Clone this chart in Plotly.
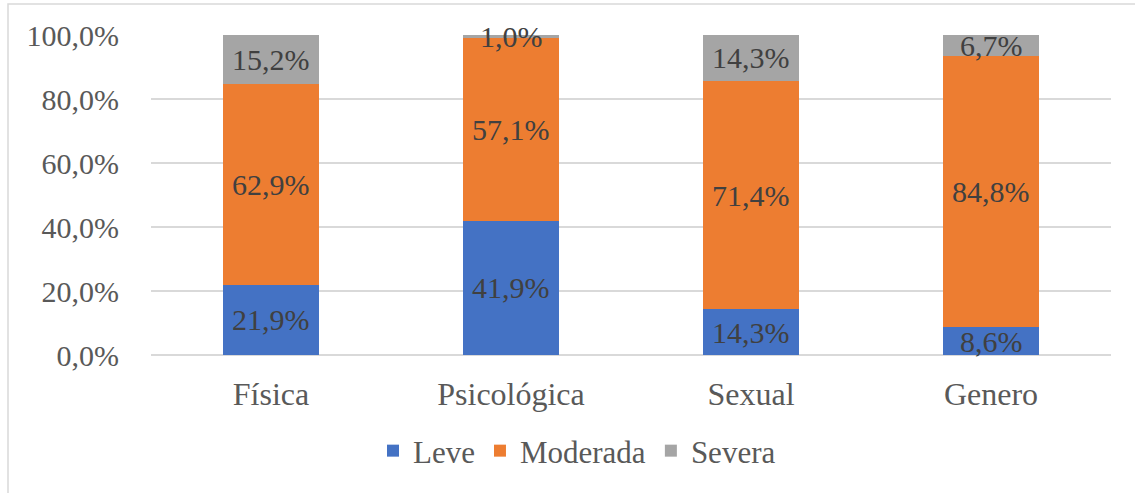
import plotly.graph_objects as go

categories = ["Física", "Psicológica", "Sexual", "Genero"]
leve = [21.9, 41.9, 14.3, 8.6]
moderada = [62.9, 57.1, 71.4, 84.8]
severa = [15.2, 1.0, 14.3, 6.7]

series = [
    ("Leve", leve, "#4472C4"),
    ("Moderada", moderada, "#ED7D31"),
    ("Severa", severa, "#A5A5A5"),
]

FONT = "Liberation Serif"
AXIS_TEXT = "#595959"
LABEL_TEXT = "#404040"

fig = go.Figure()
base = [0.0] * len(categories)
labels = []
for name, vals, color in series:
    fig.add_trace(go.Bar(
        x=categories,
        y=vals,
        name=name,
        marker=dict(color=color, line=dict(width=0)),
    ))
    # value labels centred on each stacked segment
    for i, (cat, v) in enumerate(zip(categories, vals)):
        labels.append(dict(
            x=cat, y=base[i] + v / 2, xref="x", yref="y",
            text=f"{v:.1f}%".replace(".", ","),
            showarrow=False,
            font=dict(family=FONT, size=30, color=LABEL_TEXT),
            xanchor="center", yanchor="middle",
        ))
        base[i] += v

# plot area in pixels: x 151..1111, y 35..355
W, H = 1135, 493
L, R, T, B = 151, 24, 35, 138
pw, ph = W - L - R, H - T - B

fig.update_layout(
    width=W,
    height=H,
    barmode="stack",
    bargap=0.6,
    separators=",.",
    paper_bgcolor="white",
    plot_bgcolor="white",
    margin=dict(l=L, r=R, t=T, b=B, pad=0),
    showlegend=True,
    annotations=labels,
    legend=dict(
        orientation="h",
        x=(577 - L) / pw,
        xanchor="center",
        y=(T + ph - 451) / ph,
        yanchor="middle",
        font=dict(family=FONT, size=31, color=AXIS_TEXT),
        itemwidth=30,
        traceorder="normal",
        bgcolor="rgba(0,0,0,0)",
    ),
    xaxis=dict(
        showgrid=False,
        showline=False,
        ticks="",
        ticklabelstandoff=17,
        tickfont=dict(family=FONT, size=32, color=AXIS_TEXT),
    ),
    yaxis=dict(
        range=[0, 100],
        dtick=20,
        tickformat=".1f",
        ticksuffix="%",
        showgrid=True,
        gridcolor="#D9D9D9",
        gridwidth=1.5,
        zeroline=True,
        zerolinecolor="#D9D9D9",
        zerolinewidth=1.5,
        showline=False,
        ticks="",
        ticklabelstandoff=31,
        tickfont=dict(family=FONT, size=30, color=AXIS_TEXT),
    ),
    shapes=[dict(
        type="rect",
        xref="paper", yref="paper",
        x0=(8 - L) / pw, x1=(W + 10 - L) / pw,
        y0=(T + ph - (H + 10)) / ph, y1=(T + ph - 4) / ph,
        line=dict(color="#D9D9D9", width=1.5),
        fillcolor="rgba(0,0,0,0)",
        layer="below",
    )],
)

fig.write_html("out.html")
